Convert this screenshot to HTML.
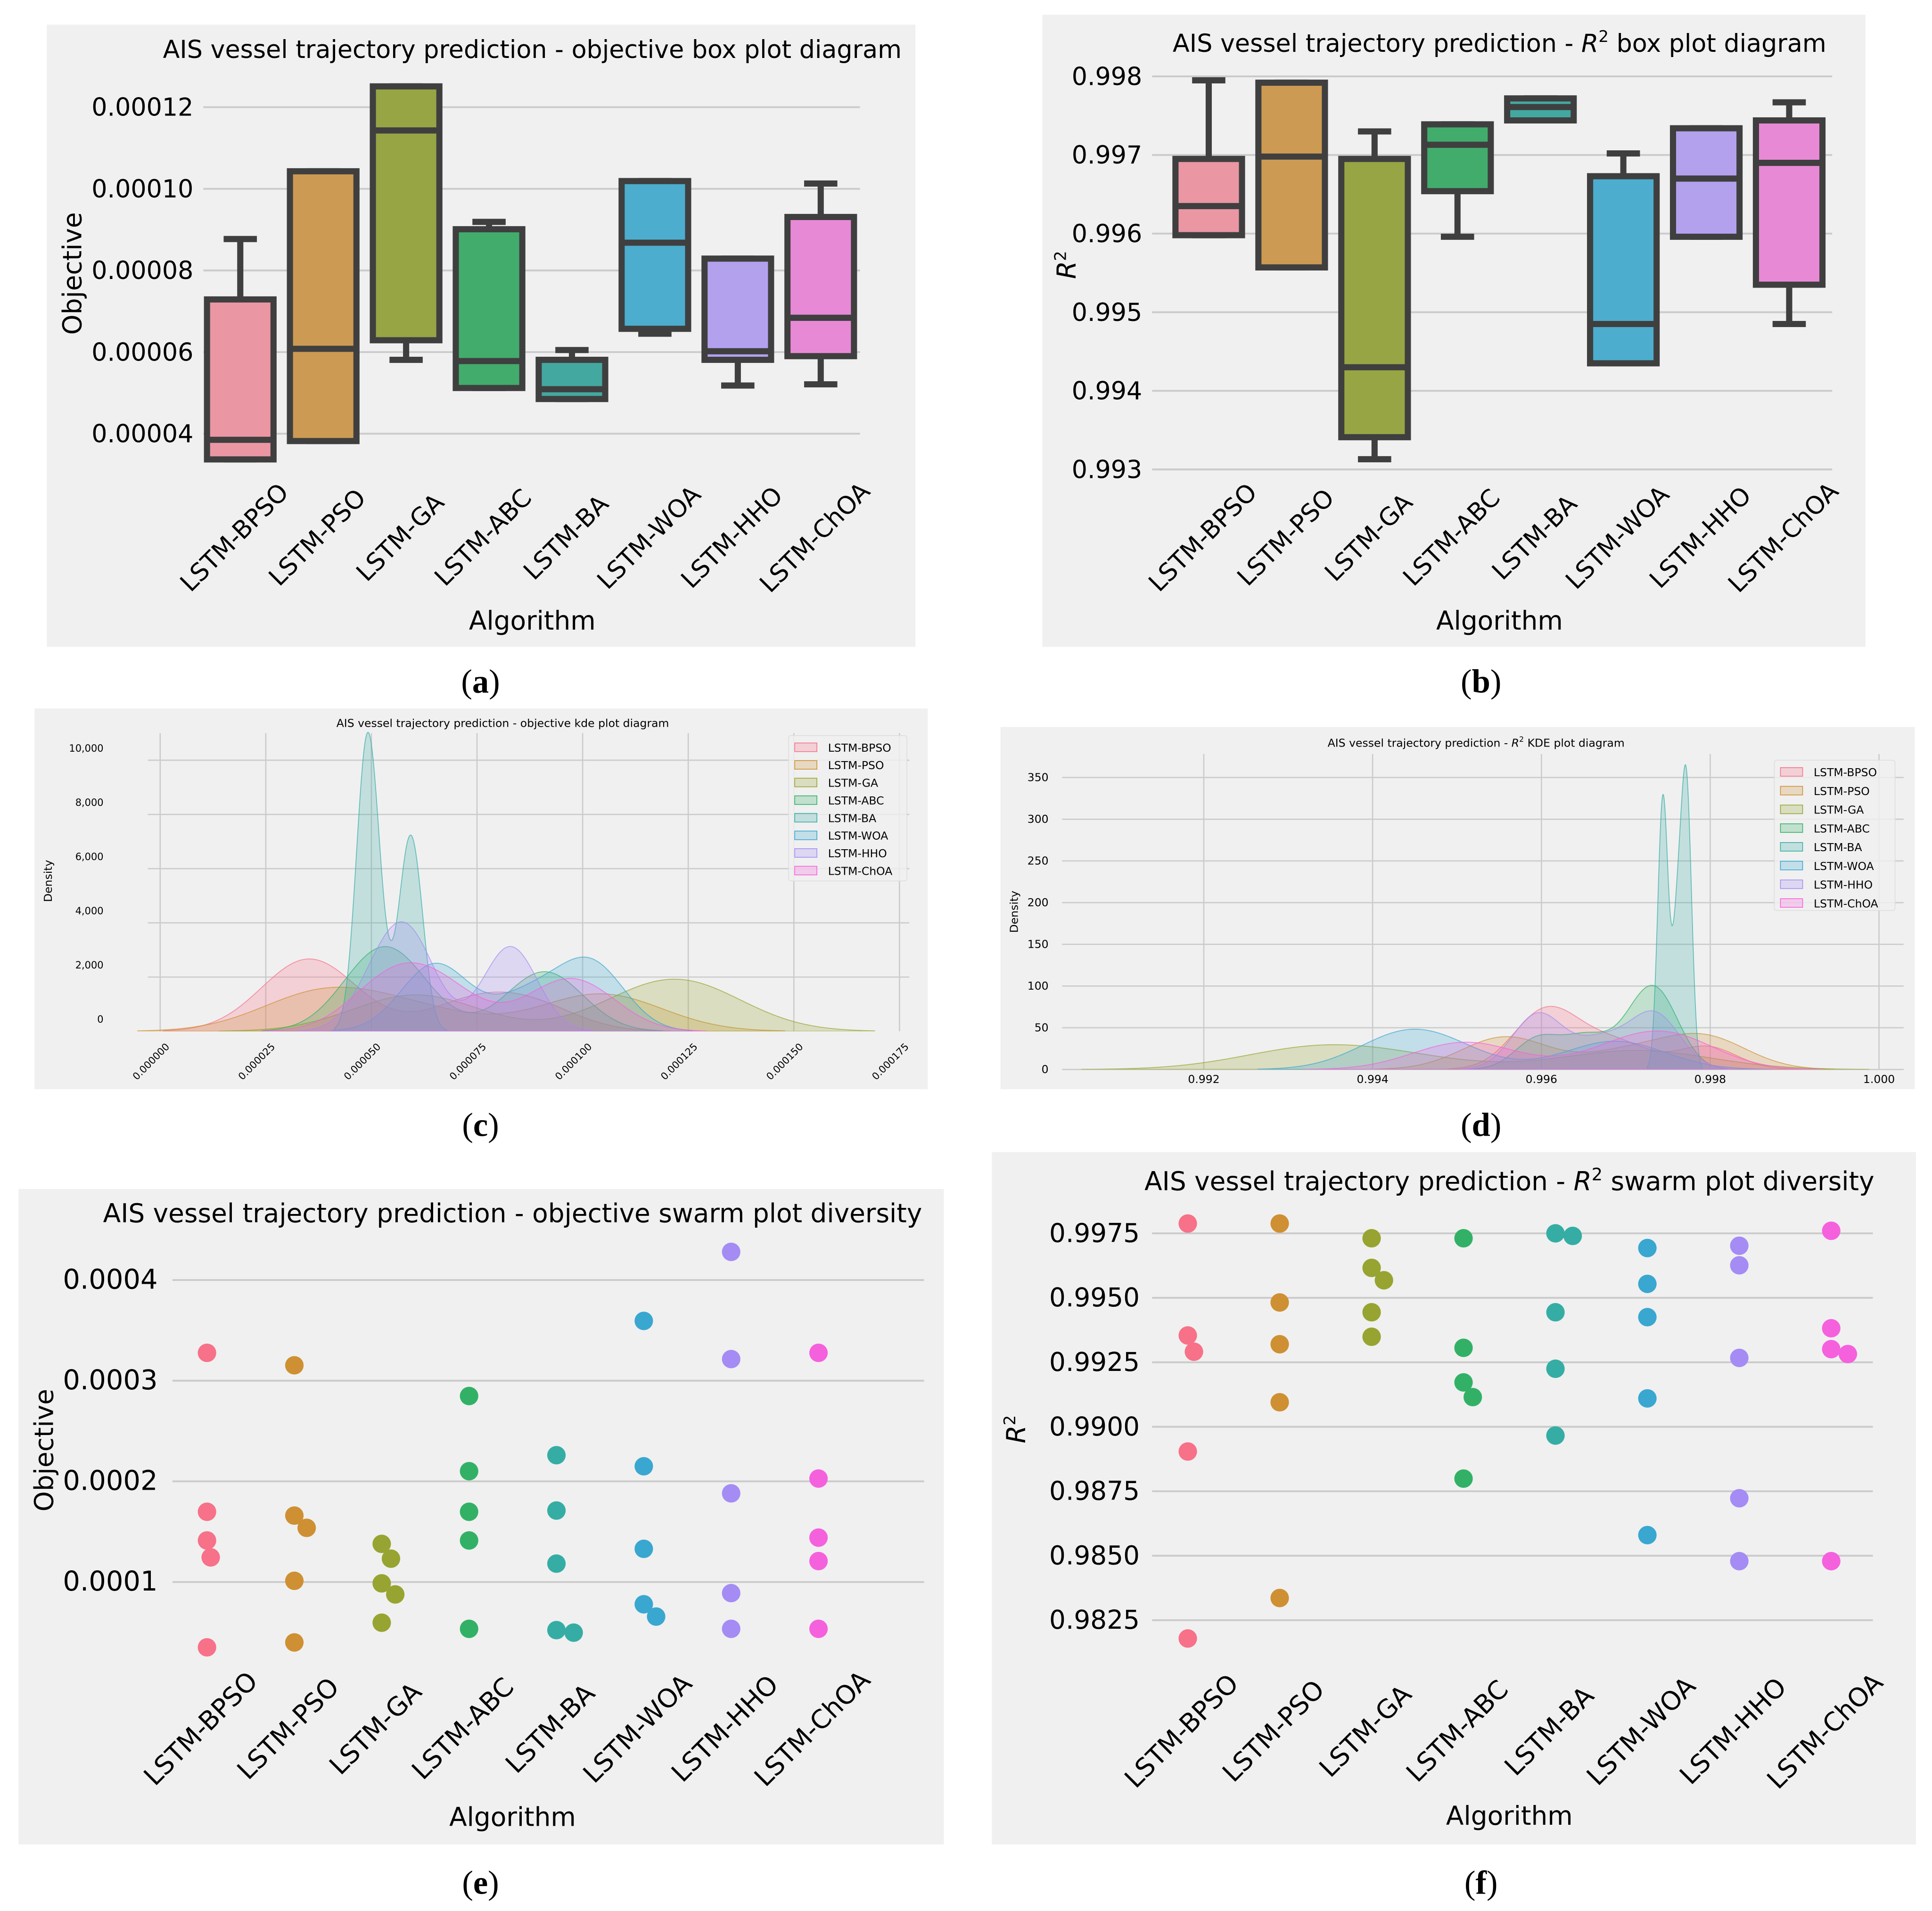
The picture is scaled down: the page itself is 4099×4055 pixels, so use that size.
<!DOCTYPE html>
<html><head><meta charset="utf-8"><style>
html,body{margin:0;padding:0;background:#fff}
svg{display:block}
text{font-family:"DejaVu Sans","Liberation Sans",sans-serif}
.cap{font-family:"Liberation Serif",serif}
</style></head><body>
<svg id="root" width="4099" height="4055" viewBox="0 0 1568 1551" preserveAspectRatio="none" xmlns="http://www.w3.org/2000/svg">
<defs>
<clipPath id="clipC"><rect x="28" y="575" width="725" height="262"/></clipPath>
<clipPath id="clipD"><rect x="812" y="590" width="742" height="278"/></clipPath>
</defs>
<rect x="0" y="0" width="1568" height="1551" fill="#ffffff"/>
</svg>
<script>
// ===== data =====
const categories=['LSTM-BPSO','LSTM-PSO','LSTM-GA','LSTM-ABC','LSTM-BA','LSTM-WOA','LSTM-HHO','LSTM-ChOA'];
const palette=['#f77189','#ce9032','#97a431','#32b166','#36ada4','#39a7d0','#a48cf4','#f561dd'];
const boxPalette=['#ea96a3','#cc9a52','#97a545','#42ac6c','#43a8a0','#4cadce','#b3a1ee','#e889d6'];
const objBPSO=[0.0000337,0.0000337,0.0000385,0.0000729,0.0000877];
const objPSO=[0.0000382,0.0000382,0.0000608,0.0001043,0.0001043];
const objGA=[0.0000581,0.0000629,0.0001143,0.0001251,0.0001251];
const objABC=[0.0000512,0.0000512,0.0000578,0.0000901,0.0000919];
const objBA=[0.0000485,0.0000485,0.0000509,0.0000581,0.0000605];
const objWOA=[0.0000645,0.0000657,0.0000868,0.0001019,0.0001019];
const objHHO=[0.0000518,0.0000581,0.0000602,0.0000829,0.0000829];
const objChOA=[0.0000521,0.000059,0.0000684,0.0000931,0.0001013];
const objData=[objBPSO,objPSO,objGA,objABC,objBA,objWOA,objHHO,objChOA];
const r2BPSO=[0.99598,0.99598,0.99635,0.99695,0.99795];
const r2PSO=[0.99557,0.99557,0.99698,0.99792,0.99792];
const r2GA=[0.99313,0.99341,0.99430,0.99695,0.99730];
const r2ABC=[0.99596,0.99654,0.99713,0.99739,0.99739];
const r2BA=[0.99744,0.99744,0.99761,0.99772,0.99772];
const r2WOA=[0.99435,0.99435,0.99485,0.99673,0.99702];
const r2HHO=[0.99596,0.99596,0.99670,0.99734,0.99734];
const r2ChOA=[0.99485,0.99535,0.99690,0.99744,0.99767];
const r2Data=[r2BPSO,r2PSO,r2GA,r2ABC,r2BA,r2WOA,r2HHO,r2ChOA];
const swObj=[[0.0003277,0.0001698,0.0001413,0.0001245,0.0000351],[0.0003153,0.000166,0.0001538,0.0001012,0.00004],[0.0001379,0.0001232,0.0000987,0.0000877,0.0000596],[0.0002848,0.0002101,0.0001698,0.0001413,0.0000535],[0.000226,0.000171,0.0001183,0.0000522,0.0000497],[0.0003594,0.000215,0.000133,0.0000779,0.0000657],[0.000428,0.0003215,0.0001881,0.000089,0.0000535],[0.0003277,0.0002028,0.0001441,0.0001208,0.0000535]];
const swR2=[[0.99788,0.99354,0.99291,0.98904,0.98179],[0.99788,0.99482,0.9932,0.99095,0.98336],[0.99731,0.99616,0.99568,0.99444,0.99349],[0.99731,0.99306,0.99172,0.99115,0.98799],[0.9975,0.9974,0.99444,0.99225,0.98966],[0.99693,0.99554,0.99425,0.9911,0.9858],[0.99702,0.99626,0.99267,0.98723,0.98479],[0.9976,0.99382,0.99301,0.99282,0.98479]];
const objTicksA=[0.00004,0.00006,0.00008,0.00010,0.00012];
const objTickLabelsA=['0.00004','0.00006','0.00008','0.00010','0.00012'];
const r2TicksB=[0.993,0.994,0.995,0.996,0.997,0.998];
const kdeXTicksC=[0,0.000025,0.00005,0.000075,0.0001,0.000125,0.00015,0.000175];
const kdeXLabelsC=['0.000000','0.000025','0.000050','0.000075','0.000100','0.000125','0.000150','0.000175'];
const kdeYTicksC=[0,2000,4000,6000,8000,10000];
const kdeYLabelsC=['0','2,000','4,000','6,000','8,000','10,000'];
const kdeXTicksD=[0.992,0.994,0.996,0.998,1.000];
const kdeYTicksD=[0,50,100,150,200,250,300,350];
const swObjTicks=[0.0001,0.0002,0.0003,0.0004];
const swR2Ticks=[0.9825,0.985,0.9875,0.99,0.9925,0.995,0.9975];

// ===== helpers =====
const NS='http://www.w3.org/2000/svg';
const root=document.getElementById('root');
function mk(tag,attrs,parent,txt){const e=document.createElementNS(NS,tag);for(const k in attrs)e.setAttribute(k,attrs[k]);if(txt!==undefined)e.textContent=txt;(parent||root).appendChild(e);return e;}
function grp(name,parent){const g=mk('g',{},parent);return g;}
function q(arr,p){const s=[...arr].sort((a,b)=>a-b);const i=(s.length-1)*p;const lo=Math.floor(i),hi=Math.ceil(i);return s[lo]+(s[hi]-s[lo])*(i-lo);}

function boxPanel(o){
  const g=grp(o.name);
  const bg=mk('rect',{x:o.bx,y:o.by,width:o.bw,height:o.bh,fill:'#f0f0f0'},g);
  
  const tg=grp('y-gridlines',g);
  o.ticks.forEach((t,i)=>{const y=o.ys(t);
    mk('line',{x1:o.gx1,x2:o.gx2,y1:y,y2:y,stroke:'#cbcbcb','stroke-width':1.5},tg);
    const tx=mk('text',{x:o.labX,y:y+7,'font-size':o.yfs,'text-anchor':'end',fill:'#000'},g,o.tickLabels[i]);
    
  });
  const t=mk('text',{x:o.tx,y:o.ty,'font-size':o.tfs,'text-anchor':'middle'},g);
  t.innerHTML=o.title;
  const yl=mk('text',{x:0,y:0,'font-size':21,'text-anchor':'middle',transform:`translate(${o.ylx},${o.yly}) rotate(-90)`},g);
  yl.innerHTML=o.ylabel;
  const xl=mk('text',{x:o.xlx,y:o.xly,'font-size':21,'text-anchor':'middle'},g,'Algorithm');
  
  categories.forEach((c,i)=>{const cx=o.xs(i);
    const l=mk('text',{x:0,y:0,'font-size':o.xfs,'text-anchor':'middle',transform:`translate(${cx},${o.xlabY}) rotate(-45)`},g,c);
    
  });
  return g;
}
function drawBoxes(g,o,data){
  data.forEach((d,i)=>{
    const q1=q(d,.25),med=q(d,.5),q3=q(d,.75),iqr=q3-q1;
    const lo=Math.min(...d.filter(v=>v>=q1-1.5*iqr)),hi=Math.max(...d.filter(v=>v<=q3+1.5*iqr));
    const cx=o.xs(i),w=o.boxW;
    const bg=grp('box-'+categories[i].toLowerCase(),g);
    const sw=5,col='#3f3f3f';
    mk('line',{x1:cx,x2:cx,y1:o.ys(hi),y2:o.ys(q3),stroke:col,'stroke-width':sw},bg);
    mk('line',{x1:cx,x2:cx,y1:o.ys(q1),y2:o.ys(lo),stroke:col,'stroke-width':sw},bg);
    mk('line',{x1:cx-w/4,x2:cx+w/4,y1:o.ys(hi),y2:o.ys(hi),stroke:col,'stroke-width':sw},bg);
    mk('line',{x1:cx-w/4,x2:cx+w/4,y1:o.ys(lo),y2:o.ys(lo),stroke:col,'stroke-width':sw},bg);
    mk('rect',{x:cx-w/2,y:o.ys(q3),width:w,height:o.ys(q1)-o.ys(q3),fill:boxPalette[i],stroke:col,'stroke-width':sw},bg);
    mk('line',{x1:cx-w/2,x2:cx+w/2,y1:o.ys(med),y2:o.ys(med),stroke:col,'stroke-width':sw},bg);
  });
}

const A={name:'objective-box-plot',bx:38,by:20,bw:705,bh:505,gx1:165,gx2:698,labX:157,yfs:20,xfs:20,tfs:20,
  ys:v=>87+(0.00012-v)/0.00002*66.25, xs:i=>195+i*67.3, ticks:objTicksA,tickLabels:objTickLabelsA,
  tx:432,ty:47,title:'AIS vessel trajectory prediction - objective box plot diagram',ylx:66,yly:222,ylabel:'Objective',
  xlx:432,xly:511,xlabY:441,boxW:54};
drawBoxes(boxPanel(A),A,objData);
const B={name:'r2-box-plot',bx:846,by:12,bw:668,bh:513,gx1:935,gx2:1487,labX:927,yfs:20,xfs:20,tfs:20,
  ys:v=>62+(0.998-v)/0.001*63.8, xs:i=>981+i*67.3, ticks:r2TicksB,tickLabels:r2TicksB.map(v=>v.toFixed(3)),
  tx:1217,ty:42,title:'AIS vessel trajectory prediction -  <tspan font-style="italic">R</tspan><tspan font-size="13" dy="-8">2</tspan><tspan dy="8"> box plot diagram</tspan>',ylx:873,yly:215,ylabel:'<tspan font-style="italic">R</tspan><tspan font-size="13" dy="-8">2</tspan>',
  xlx:1217,xly:511,xlabY:441,boxW:54};
drawBoxes(boxPanel(B),B,r2Data);

function kdePanel(o,data){
  const g=grp(o.name);
  const bg=mk('rect',{x:o.bx,y:o.by,width:o.bw,height:o.bh,fill:'#f0f0f0'},g);
  
  o.yTicks.forEach((t,i)=>{const y=o.ys(t);
    if(t>0||o.zeroLine)mk('line',{x1:o.gx1,x2:o.gx2,y1:y,y2:y,stroke:'#cbcbcb','stroke-width':1},g);
    const l=mk('text',{x:o.ylabX,y:y+o.ylabDy,'font-size':o.fs,'text-anchor':'end'},g,o.yLabels[i]);
    
  });
  o.xTicks.forEach((t,i)=>{const x=o.xs(t);
    mk('line',{x1:x,x2:x,y1:o.gy1,y2:o.ys(0),stroke:'#cbcbcb','stroke-width':1},g);
    const l=mk('text',{x:0,y:0,'font-size':o.fs,'text-anchor':o.rot?'end':'middle',transform:o.rot?`translate(${x+8},${o.xlabY}) rotate(-45)`:`translate(${x},${o.xlabY})`},g,o.xLabels[i]);
    
  });
  const t=mk('text',{x:o.tx,y:o.ty,'font-size':9,'text-anchor':'middle'},g);t.innerHTML=o.title;
  
  const yl=mk('text',{x:0,y:0,'font-size':9,'text-anchor':'middle',transform:`translate(${o.ylx},${o.yly}) rotate(-90)`},g,'Density');
  
  const N=data.reduce((s,d)=>s+d.length,0);
  const cg=mk('g',{'clip-path':o.clip},g);
  data.forEach((d,i)=>{
    const n=d.length,mean=d.reduce((a,b)=>a+b,0)/n;
    const sd=Math.sqrt(d.reduce((a,b)=>a+(b-mean)*(b-mean),0)/(n-1));
    const h=sd*Math.pow(n,-0.2)*o.bwAdjust;
    const lo=Math.min(...d)-3*h,hi=Math.max(...d)+3*h;
    let p='M'+o.xs(lo)+','+o.ys(0);
    for(let k=0;k<=300;k++){const x=lo+(hi-lo)*k/300;
      let s=0;d.forEach(v=>{const z=(x-v)/h;s+=Math.exp(-0.5*z*z);});
      const dens=s/(N*h*Math.sqrt(2*Math.PI));
      p+=' L'+o.xs(x).toFixed(2)+','+o.ys(dens).toFixed(2);}
    p+=' L'+o.xs(hi)+','+o.ys(0)+' Z';
    const path=mk('path',{d:p,fill:palette[i],'fill-opacity':0.25,stroke:palette[i],'stroke-opacity':0.7,'stroke-width':0.7},cg);
    
  });
  const lg=grp('legend',g);
  mk('rect',{x:o.lx,y:o.ly,width:o.lw,height:o.lh,fill:'#f0f0f0','fill-opacity':0.8,stroke:'#dddddd','stroke-width':0.6,rx:2},lg);
  categories.forEach((c,i)=>{const y=o.ly+6+i*o.lstep;
    const e=grp('legend-entry',lg);
    mk('rect',{x:o.lx+5,y:y,width:18,height:7,fill:palette[i],'fill-opacity':0.25,stroke:palette[i],'stroke-width':0.6},e);
    mk('text',{x:o.lx+32,y:y+7,'font-size':9},e,c);
  });
}
kdePanel({name:'objective-kde-plot',bx:28,by:575,bw:725,bh:309,gx1:120,gx2:738,gy1:595,clip:'url(#clipC)',bwAdjust:0.6,
  xs:v=>130+v/0.000175*600, ys:d=>837-d/2000*44, xTicks:kdeXTicksC,xLabels:kdeXLabelsC,yTicks:kdeYTicksC,yLabels:kdeYLabelsC,
  ylabX:84,ylabDy:-7,fs:8,rot:true,xlabY:850,tx:408,ty:590,title:'AIS vessel trajectory prediction - objective kde plot diagram',
  ylx:42,yly:715,lx:640,ly:597,lw:96,lh:118,lstep:14.3,zeroLine:false},objData);
kdePanel({name:'r2-kde-plot',bx:812,by:590,bw:742,bh:294,gx1:862,gx2:1545,gy1:612,clip:'url(#clipD)',bwAdjust:0.6,
  xs:v=>977+(v-0.992)/0.001*68.5, ys:d=>868-d*0.677, xTicks:kdeXTicksD,xLabels:kdeXTicksD.map(v=>v.toFixed(3)),yTicks:kdeYTicksD,yLabels:kdeYTicksD.map(String),
  ylabX:851,ylabDy:3,fs:9,rot:false,xlabY:879,tx:1198,ty:606,title:'AIS vessel trajectory prediction -  <tspan font-style="italic">R</tspan><tspan font-size="6" dy="-4">2</tspan><tspan dy="4"> KDE plot diagram</tspan>',
  ylx:826,yly:740,lx:1440,ly:617,lw:98,lh:122,lstep:15.2,zeroLine:true},r2Data);

function swarmPanel(o,data){
  const g=boxPanel(o);
  const r=7.5;
  data.forEach((d,i)=>{
    const cx=o.xs(i),placed=[];
    d.forEach(v=>{const y=o.ys(v);let off=0;
      for(let k=0;k<200;k++){const cand=(k%2?1:-1)*Math.ceil(k/2)*0.5;
        if(placed.every(p=>Math.hypot(p[0]-cand,p[1]-y)>=2*r-1)){off=cand;break;}}
      placed.push([off,y]);
      const c=mk('circle',{cx:cx+off,cy:y,r:r,fill:palette[i]},g);
      
    });
  });
}
swarmPanel({name:'objective-swarm-plot',bx:15,by:965,bw:751,bh:532,gx1:140,gx2:750,labX:128,yfs:22,xfs:21,tfs:21,
  ys:v=>1365.7-v/0.0001*81.7, xs:i=>168+i*70.9, ticks:swObjTicks,tickLabels:swObjTicks.map(v=>v.toFixed(4)),
  tx:416,ty:992,title:'AIS vessel trajectory prediction -  objective swarm plot diversity',ylx:43,yly:1177,ylabel:'Objective',
  xlx:416,xly:1482,xlabY:1408,boxW:54},swObj);
swarmPanel({name:'r2-swarm-plot',bx:805,by:935,bw:750,bh:562,gx1:935,gx2:1520,labX:925,yfs:21,xfs:21,tfs:21,
  ys:v=>1001+(0.9975-v)/0.0025*52.33, xs:i=>964+i*74.6, ticks:swR2Ticks,tickLabels:swR2Ticks.map(v=>v.toFixed(4)),
  tx:1225,ty:966,title:'AIS vessel trajectory prediction -  <tspan font-style="italic">R</tspan><tspan font-size="14" dy="-8">2</tspan><tspan dy="8"> swarm plot diversity</tspan>',ylx:832,yly:1160,ylabel:'<tspan font-style="italic">R</tspan><tspan font-size="13" dy="-8">2</tspan>',
  xlx:1225,xly:1481,xlabY:1410,boxW:54},swR2);

[['a',390,562],['b',1202,562],['c',390,922],['d',1202,922],['e',390,1537],['f',1202,1537]].forEach(c=>{
  const t=mk('text',{x:c[1],y:c[2],'font-size':27,'text-anchor':'middle',class:'cap'},root);
  t.innerHTML='(<tspan font-weight="bold">'+c[0]+'</tspan>)';
  
});
</script>
</body></html>
